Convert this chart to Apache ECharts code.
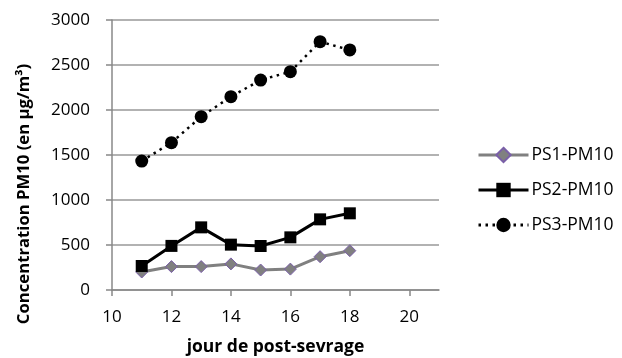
<!DOCTYPE html>
<html><head><meta charset="utf-8">
<script src="https://cdn.jsdelivr.net/npm/echarts@6/dist/echarts.min.js"></script>
<style>html,body{margin:0;padding:0;background:#fff}#c{width:622px;height:358px}</style>
</head><body><div id="c"></div>
<script>
var days = [11, 12, 13, 14, 15, 16, 17, 18];
var ps1 = [200, 260, 260, 290, 222, 232, 370, 437];
var ps2 = [267, 490, 696, 504, 489, 585, 785, 852];
var ps3 = [1433, 1637, 1926, 2148, 2333, 2426, 2759, 2667];
var xTicks = [10, 12, 14, 16, 18, 20];
var seriesNames = ['PS1-PM10', 'PS2-PM10', 'PS3-PM10'];
var font = 'Open Sans';
function pairs(v){ return days.map(function(d,i){ return [d, v[i]]; }); }
var chart = echarts.init(document.getElementById('c'));
chart.setOption({
  animation: false,
  textStyle: {fontFamily: font},
  grid: {left: 112, top: 20, right: 183, bottom: 68, outerBoundsMode: 'none', containLabel: false},
  legend: {
    orient: 'vertical', left: 477, top: 146, itemWidth: 50, itemHeight: 18, itemGap: 17,
    padding: 0,
    lineStyle: {width: 3},
    textStyle: {fontFamily: font, fontSize: 17.5, color: '#000', lineHeight: 18, padding: [0, 0, 0, -2]},
    data: seriesNames
  },
  xAxis: {
    type: 'value', min: 10, max: 21, interval: 2,
    name: 'jour de post-sevrage', nameLocation: 'middle', nameGap: 48,
    nameTextStyle: {fontFamily: font, fontSize: 17.5, fontWeight: 'bold', color: '#000'},
    axisLine: {show: true, lineStyle: {color: '#888', width: 1.5}},
    axisTick: {show: true, length: 6, lineStyle: {color: '#888', width: 1.5}, customValues: xTicks},
    axisLabel: {fontSize: 17, color: '#000', margin: 19, customValues: xTicks},
    splitLine: {show: false}
  },
  yAxis: {
    type: 'value', min: 0, max: 3000, interval: 500,
    name: 'Concentration PM10 (en µg/m³)', nameLocation: 'middle', nameGap: 79,
    nameTextStyle: {fontFamily: font, fontSize: 16.7, fontWeight: 'bold', color: '#000', padding: [0, 78, 0, 0]},
    axisLine: {show: true, lineStyle: {color: '#888', width: 1.5}},
    axisTick: {show: true, length: 6, lineStyle: {color: '#888', width: 1.5}},
    axisLabel: {fontSize: 17, color: '#000', margin: 22, formatter: function(v){ return String(v); }},
    splitLine: {show: true, lineStyle: {color: '#999', width: 1.5}}
  },
  series: [
    {name: seriesNames[0], type: 'line', data: pairs(ps1), symbol: 'diamond', symbolSize: 12,
     lineStyle: {color: '#808080', width: 3}, itemStyle: {color: '#808080', borderColor: '#7a5fa8', borderWidth: 1}},
    {name: seriesNames[1], type: 'line', data: pairs(ps2), symbol: 'rect', symbolSize: 12,
     lineStyle: {color: '#000', width: 3}, itemStyle: {color: '#000'}},
    {name: seriesNames[2], type: 'line', data: pairs(ps3), symbol: 'circle', symbolSize: 13,
     lineStyle: {color: '#000', width: 2.5, type: [2.5, 4.5]}, itemStyle: {color: '#000'}}
  ]
});
</script></body></html>
